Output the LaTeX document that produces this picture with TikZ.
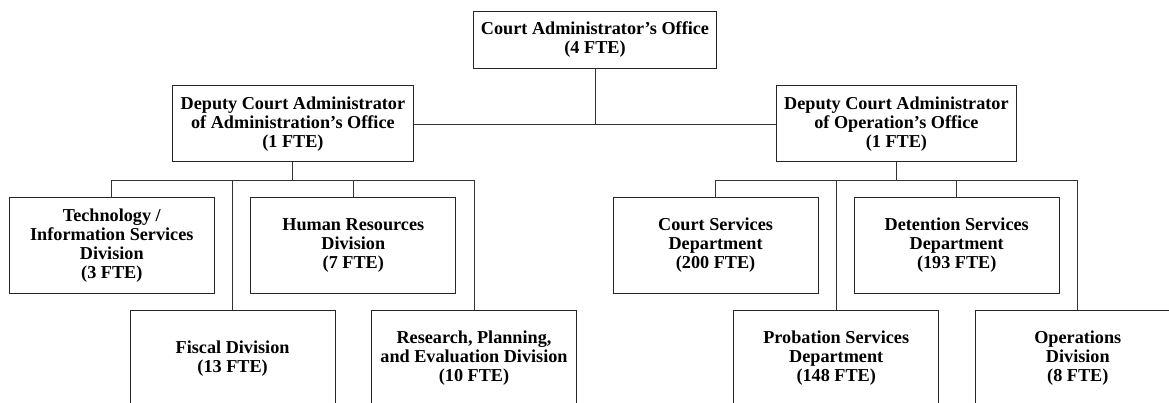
\documentclass[tikz,border=0pt]{standalone}
\usepackage{fontspec}
\setmainfont{Liberation Serif}
\begin{document}
\begin{tikzpicture}[x=1pt,y=-1pt,
  orgbox/.style={draw=black!85, line width=1pt, fill=white, inner sep=0pt,
    align=center, font=\bfseries\fontsize{18.2}{19}\selectfont},
  topbox/.style={orgbox, minimum width=242.6pt, minimum height=57pt},
  deputybox/.style={orgbox, minimum width=240.3pt, minimum height=76pt},
  unitbox/.style={orgbox, minimum width=205.2pt, minimum height=95.8pt},
  link/.style={draw=black!80, line width=0.9pt}]
\useasboundingbox (0,0) rectangle (1169,403);
\clip (0,0) rectangle (1169,403);

% rails the branches hang from
\coordinate (railTop) at (0,124.3);
\coordinate (railA)   at (0,180.3);
\coordinate (railO)   at (0,180.3);

% head office and deputies
\node[topbox] (top) at (595,39.8) {Court Administrator’s Office\\(4 FTE)};
\node[deputybox] (depA) at (292.9,124) {Deputy Court Administrator\\of Administration’s Office\\(1 FTE)};
\node[deputybox] (depO) at (896.4,124) {Deputy Court Administrator\\of Operation’s Office\\(1 FTE)};

% administration units
\node[unitbox] (tis)      at (111.8,245.4) {Technology /\\Information Services\\Division\\(3 FTE)};
\node[unitbox] (hr)       at (353.3,245.4) {Human Resources\\Division\\(7 FTE)};
\node[unitbox] (fiscal)   at (232.6,358.2) {Fiscal Division\\(13 FTE)};
\node[unitbox] (research) at (474.0,358.2) {Research, Planning,\\and Evaluation Division\\(10 FTE)};

% operations units
\node[unitbox] (court)      at (715.6,245.4) {Court Services\\Department\\(200 FTE)};
\node[unitbox] (detention)  at (956.7,245.4) {Detention Services\\Department\\(193 FTE)};
\node[unitbox] (probation)  at (836.2,358.2) {Probation Services\\Department\\(148 FTE)};
\node[unitbox] (operations) at (1077.8,358.2) {Operations\\Division\\(8 FTE)};

% top level connectors
\draw[link] (depA.east) -- (depO.west);
\draw[link] (top.south) -- (top.south |- railTop);

% administration branch
\draw[link] (depA.south) -- (depA.south |- railA);
\draw[link] (tis.north) -- (tis.north |- railA) -- (research.north |- railA) -- (research.north);
\draw[link] (hr.north) -- (hr.north |- railA);
\draw[link] (fiscal.north) -- (fiscal.north |- railA);

% operations branch
\draw[link] (depO.south) -- (depO.south |- railO);
\draw[link] (court.north) -- (court.north |- railO) -- (operations.north |- railO) -- (operations.north);
\draw[link] (detention.north) -- (detention.north |- railO);
\draw[link] (probation.north) -- (probation.north |- railO);
\end{tikzpicture}
\end{document}
